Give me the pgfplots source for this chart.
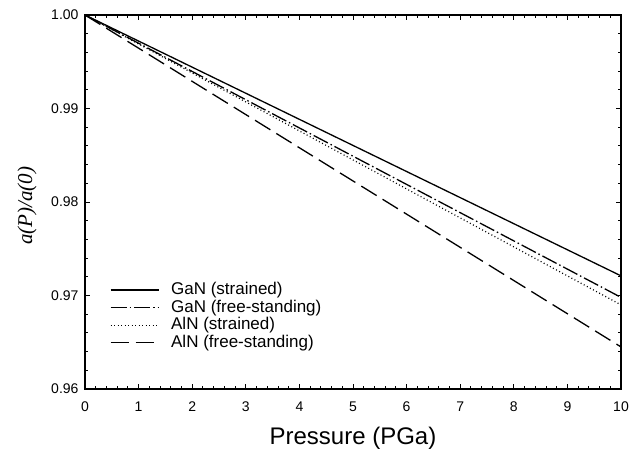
\documentclass[border=0pt]{standalone}
\usepackage{pgfplots}
\pgfplotsset{compat=1.18}
\usepackage{fontspec}
\setmainfont{Liberation Sans}
\newfontfamily\seriffont{Liberation Serif}
\begin{document}
\begin{tikzpicture}
\begin{axis}[
  scale only axis,
  width=536pt, height=374pt,
  xmin=0, xmax=10, ymin=0.96, ymax=1.00,
  xtick={0,1,...,10},
  ytick={0.96,0.97,0.98,0.99,1.00},
  minor x tick num=4,
  minor y tick num=4,
  tick align=inside,
  major tick length=5pt,
  minor tick length=3pt,
  axis line style={line width=1.2pt},
  every tick/.style={line width=0.9pt, black},
  /pgf/number format/assume math mode=true,
  yticklabel style={/pgf/number format/fixed, /pgf/number format/precision=2, /pgf/number format/fixed zerofill, font=\fontsize{14}{16}\selectfont, xshift=-3pt},
  xticklabel style={font=\fontsize{14}{16}\selectfont, yshift=-9pt},
  scaled y ticks=false,
  xlabel={Pressure (PGa)},
  xlabel style={at={(axis description cs:0.5,-0.131)}, anchor=center, font=\fontsize{24}{28}\selectfont},
  ylabel={\seriffont\itshape a(P)/a(0)},
  ylabel style={at={(axis description cs:-0.108,0.49)}, anchor=center, font=\fontsize{21}{24}\selectfont},
  legend style={draw=none, fill=none, at={(axis description cs:0.046,0.285)}, anchor=north west, font=\fontsize{17}{19}\selectfont, row sep=2.5pt, inner sep=0pt,
    nodes={inner sep=0pt, text height=12pt, text depth=3pt},
    /tikz/every odd column/.append style={column sep=12pt}},
  legend cell align=left,
  legend image code/.code={\draw[#1] (0pt,0pt) -- (48pt,0pt);},
]
\addplot[black, line width=1.3pt] coordinates {(0,1.0) (2,0.99442) (4,0.98884) (6,0.98326) (8,0.97768) (10,0.9721)};
\addlegendentry{GaN (strained)}
\addplot[black, line width=1.3pt, dash pattern=on 16pt off 3pt on 1.5pt off 3pt] coordinates {(0,1.0) (2,0.99396) (4,0.98792) (6,0.98188) (8,0.97584) (10,0.9698)};
\addlegendentry{GaN (free-standing)}
\addplot[black, line width=1.2pt, dash pattern=on 1pt off 2.5pt] coordinates {(0,1.0) (2,0.9938) (4,0.9876) (6,0.9814) (8,0.9752) (10,0.9690)};
\addlegendentry{AlN (strained)}
\addplot[black, line width=1.3pt, dash pattern=on 18pt off 7pt] coordinates {(0,1.0) (2,0.9929) (4,0.9858) (6,0.9787) (8,0.9716) (10,0.9645)};
\addlegendentry{AlN (free-standing)}
\end{axis}
\pgfresetboundingbox
\path ([xshift=-85pt,yshift=-73pt]current axis.south west) rectangle ([xshift=10pt,yshift=15pt]current axis.north east);
\end{tikzpicture}
\end{document}
